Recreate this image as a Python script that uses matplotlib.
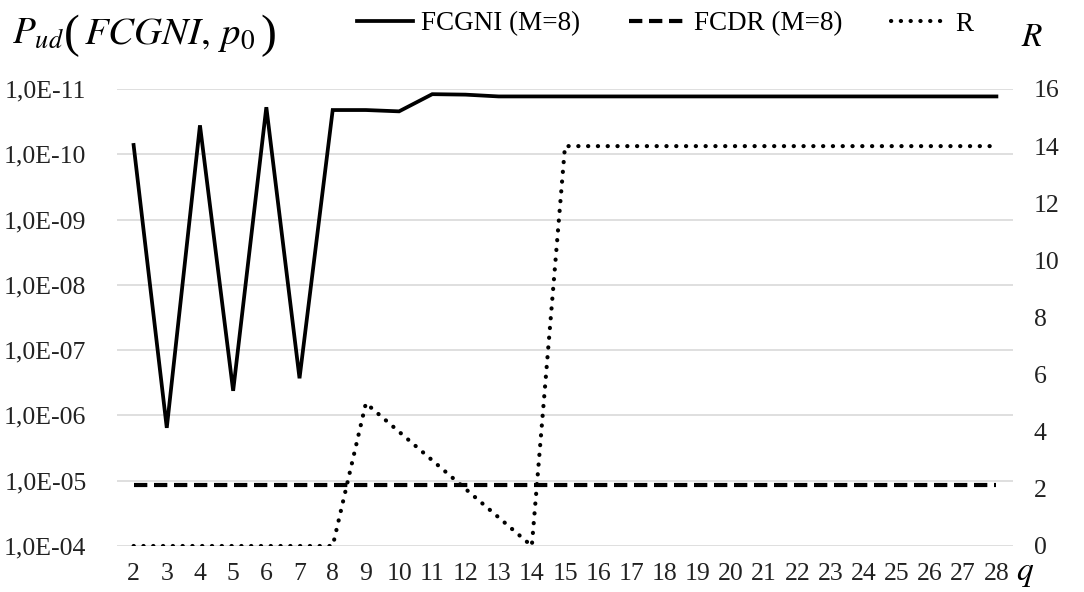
import matplotlib
matplotlib.use("Agg")
import matplotlib.pyplot as plt
from matplotlib.ticker import FixedLocator, FixedFormatter

q = list(range(2, 29))
fcgni = [7.2e-11, 1.55e-06, 3.6e-11, 4.2e-07, 1.9e-11, 2.7e-07, 2.1e-11, 2.1e-11,
         2.2e-11, 1.2e-11, 1.22e-11, 1.3e-11, 1.3e-11, 1.3e-11, 1.3e-11, 1.3e-11,
         1.3e-11, 1.3e-11, 1.3e-11, 1.3e-11, 1.3e-11, 1.3e-11, 1.3e-11, 1.3e-11,
         1.3e-11, 1.3e-11, 1.3e-11]
fcdr = [1.15e-05, 1.15e-05, 1.15e-05, 1.15e-05, 1.15e-05, 1.15e-05, 1.15e-05,
        1.15e-05, 1.15e-05, 1.15e-05, 1.15e-05, 1.15e-05, 1.15e-05, 1.15e-05,
        1.15e-05, 1.15e-05, 1.15e-05, 1.15e-05, 1.15e-05, 1.15e-05, 1.15e-05,
        1.15e-05, 1.15e-05, 1.15e-05, 1.15e-05, 1.15e-05, 1.15e-05]
r_vals = [0, 0, 0, 0, 0, 0, 0, 5, 4, 3, 2, 1, 0, 14, 14, 14, 14, 14, 14, 14,
          14, 14, 14, 14, 14, 14, 14]
left_ticks = [1e-11, 1e-10, 1e-09, 1e-08, 1e-07, 1e-06, 1e-05, 1e-04]
left_labels = ["1,0E-11", "1,0E-10", "1,0E-09", "1,0E-08", "1,0E-07",
               "1,0E-06", "1,0E-05", "1,0E-04"]
right_ticks = [0, 2, 4, 6, 8, 10, 12, 14, 16]
series_names = ["FCGNI (M=8)", "FCDR (M=8)", "R"]

plt.rcParams['font.family'] = ['Liberation Serif', 'DejaVu Serif']
plt.rcParams['mathtext.fontset'] = 'stix'

W, H = 1084, 592
fig = plt.figure(figsize=(W / 100, H / 100), dpi=100)
x0, x1, ytop, ybot = 117, 1013, 89, 546
ax = fig.add_axes([x0 / W, 1 - ybot / H, (x1 - x0) / W, (ybot - ytop) / H])
ax2 = ax.twinx()

l1, = ax.plot(q, fcgni, color='black', lw=2.7, solid_joinstyle='miter', zorder=3)
l2, = ax.plot(q, fcdr, color='black', lw=3.0, linestyle=(0, (3.2, 1.6)), zorder=3)
l3, = ax2.plot(q, r_vals, color='black', lw=3.0, linestyle=(0, (0.05, 2.3)),
               dash_capstyle='round', zorder=3)

ax.set_yscale('log')
ax.set_ylim(1e-4, 1e-11)
ax.set_xlim(1.5, 28.5)
ax.yaxis.set_major_locator(FixedLocator(left_ticks))
ax.yaxis.set_major_formatter(FixedFormatter(left_labels))
ax.yaxis.set_minor_locator(FixedLocator([]))
ax.set_xticks(q)
ax.set_xticklabels([str(v) for v in q])
ax.grid(axis='y', color='#d9d9d9', lw=1.2)
ax.set_axisbelow(True)
ax2.set_ylim(0, 16)
ax2.set_yticks(right_ticks)

for a in (ax, ax2):
    for s in a.spines.values():
        s.set_visible(False)
ax.tick_params(axis='y', length=0, pad=22, labelsize=18.5, colors='#222222')
ax.tick_params(axis='x', length=0, pad=12, labelsize=18.5, colors='#222222')
ax2.tick_params(axis='y', length=0, pad=15, labelsize=18.5, colors='#222222')

# y-axis title assembled from pieces (large parentheses)
fig.text(12 / W, 1 - 44 / H, r'$P_{ud}$', fontsize=27, ha='left', va='baseline')
fig.text(64 / W, 1 - 47 / H, '(', fontsize=34, ha='left', va='baseline')
fig.text(84 / W, 1 - 44 / H, r'$FCGNI,\,p_0$', fontsize=28, ha='left',
         va='baseline')
fig.text(260 / W, 1 - 47 / H, ')', fontsize=34, ha='left', va='baseline')

fig.text(1032 / W, 1 - 38 / H, r'$R$', fontsize=24, ha='center', va='center')
fig.text(1025 / W, 1 - 574 / H, r'$q$', fontsize=24, ha='center', va='center')

fig.legend([l1, l2, l3], series_names, loc='center left',
           bbox_to_anchor=(357 / W, 1 - 24 / H), ncol=3, frameon=False,
           fontsize=19.5, handlelength=2.05, handletextpad=0.33,
           columnspacing=1.8, borderpad=0, borderaxespad=0)

fig.savefig('out.png', dpi=100)
